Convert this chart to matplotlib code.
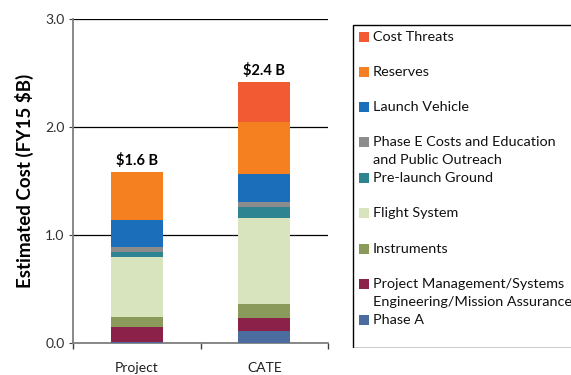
import matplotlib
matplotlib.use("Agg")
import matplotlib.pyplot as plt
from matplotlib.patches import Rectangle

plt.rcParams['font.family'] = ['Lato', 'DejaVu Sans']

categories = ["Project", "CATE"]
components = [
    "Phase A",
    "Project Management/Systems\nEngineering/Mission Assurance",
    "Instruments",
    "Flight System",
    "Pre-launch Ground",
    "Phase E Costs and Education\nand Public Outreach",
    "Launch Vehicle",
    "Reserves",
    "Cost Threats",
]
project_costs = [0.01, 0.14, 0.09, 0.555, 0.045, 0.045, 0.25, 0.445, 0.0]
cate_costs = [0.11, 0.12, 0.13, 0.80, 0.10, 0.045, 0.26, 0.48, 0.37]
colors = ["#4B6C9E", "#8B2148", "#8A9A5B", "#D8E4BE", "#2E8591",
          "#8C8C8C", "#1B6FBA", "#F58020", "#F15A33"]
total_labels = ["$1.6 B", "$2.4 B"]

W, H = 571, 375
fig = plt.figure(figsize=(W / 100, H / 100), dpi=100)

def px_rect(x0, y0, x1, y1):
    return [x0 / W, 1 - y1 / H, (x1 - x0) / W, (y1 - y0) / H]

ax = fig.add_axes(px_rect(73, 19, 328, 343))
xs = range(len(categories))
series = [project_costs, cate_costs]
bottoms = [0.0, 0.0]
for i, (name, col) in enumerate(zip(components, colors)):
    vals = [s[i] for s in series]
    ax.bar(xs, vals, width=0.41, bottom=bottoms, color=col, zorder=3,
           linewidth=0)
    bottoms = [b + v for b, v in zip(bottoms, vals)]

for x, tot, lab in zip(xs, bottoms, total_labels):
    ax.text(x, tot + 0.04, lab, ha="center", va="bottom",
            fontsize=10.5, fontweight="bold", color="#000000")

ax.set_xlim(-0.5, 1.5)
ax.set_ylim(0, 3.0)
ax.set_yticks([0, 1, 2, 3])
ax.set_yticklabels(["0.0", "1.0", "2.0", "3.0"])
ax.set_xticks(list(xs))
ax.set_xticklabels(categories)
ax.set_xticks([-0.5, 0.5, 1.5], minor=True)
ax.tick_params(axis="x", which="major", length=0, pad=14, labelsize=10,
               labelcolor="#202020")
ax.tick_params(axis="x", which="minor", length=4, direction="out",
               color="#404040", width=1)
ax.tick_params(axis="y", length=3, direction="out", color="#404040",
               labelsize=10, labelcolor="#303030", pad=3)
ax.yaxis.grid(True, color="#000000", linewidth=0.9, zorder=0)
ax.set_axisbelow(True)
for side in ["top", "right"]:
    ax.spines[side].set_visible(False)
ax.spines["left"].set_color("#7F7F7F")
ax.spines["bottom"].set_color("#7F7F7F")
ax.spines["left"].set_linewidth(1.3)
ax.spines["bottom"].set_linewidth(1.3)
ax.set_ylabel("Estimated Cost (FY15 $B)", fontsize=13.5, fontweight="bold",
              labelpad=8)

# Legend panel on the right, drawn in pixel coordinates
lax = fig.add_axes(px_rect(352, 24, 620, 348))
lax.set_xlim(352, 620)
lax.set_ylim(348, 24)
lax.axis("off")
lax.add_patch(Rectangle((352.5, 24.5), 300, 323, fill=False,
                        edgecolor="#000000", linewidth=1.0))
entry_y = [37, 72, 107, 142, 178, 213, 249, 284, 320]
legend_order = list(reversed(range(len(components))))
for yy, idx in zip(entry_y, legend_order):
    lax.add_patch(Rectangle((359, yy - 5), 10, 10, color=colors[idx],
                            linewidth=0))
    lax.text(373, yy - 6.5, components[idx], ha="left", va="top",
             fontsize=10.4, color="#111111", linespacing=1.6)

fig.savefig("out.png", dpi=100)
